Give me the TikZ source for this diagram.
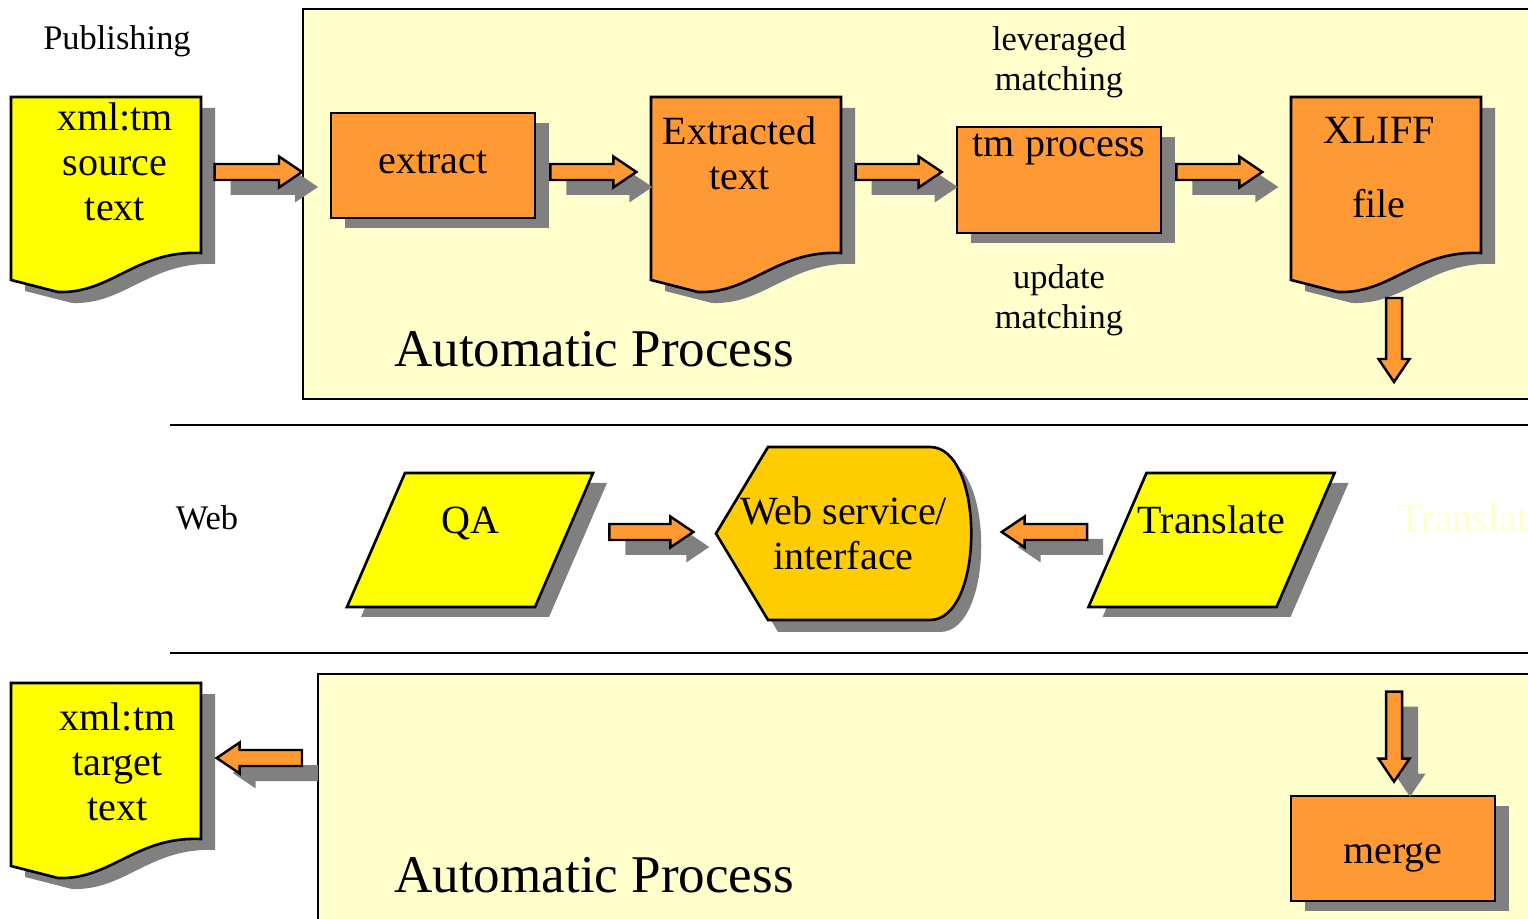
\documentclass[tikz,border=0pt]{standalone}
\usepackage{fontspec}
\setmainfont{Liberation Serif}
\usetikzlibrary{arrows.meta,positioning,calc,shadows,shapes.geometric}
\definecolor{PanelYellow}{RGB}{255,255,204}
\definecolor{DocYellow}{RGB}{255,255,0}
\definecolor{BoxOrange}{RGB}{255,153,51}
\definecolor{WebGold}{RGB}{255,204,0}
\definecolor{ShadowGray}{RGB}{128,128,128}
\newcommand{\boxfont}{\fontsize{11.4}{12.8}\selectfont}
\newcommand{\notefont}{\fontsize{9.8}{11.4}\selectfont}
\newcommand{\bigfont}{\fontsize{15.1}{17}\selectfont}
% fat outlined arrow from #2 to #3, with its shadow (#1)
\newcommand{\blockarrow}[3][fill=ShadowGray]{%
  \coordinate (ba-tail) at #2;
  \coordinate (ba-tip) at #3;
  \coordinate (ba-base) at ($(ba-tip)!2.3mm!(ba-tail)$);
  \path[#1,transform canvas={shift={(1.6mm,-1.5mm)}}]
    ($(ba-tail)!0.8mm!90:(ba-tip)$) -- ($(ba-base)!0.8mm!-90:(ba-tail)$)
    -- ($(ba-base)!1.55mm!-90:(ba-tail)$) -- (ba-tip)
    -- ($(ba-base)!1.55mm!90:(ba-tail)$) -- ($(ba-base)!0.8mm!90:(ba-tail)$)
    -- ($(ba-tail)!0.8mm!-90:(ba-tip)$) -- cycle;
  \filldraw[pipefill]
    ($(ba-tail)!0.8mm!90:(ba-tip)$) -- ($(ba-base)!0.8mm!-90:(ba-tail)$)
    -- ($(ba-base)!1.55mm!-90:(ba-tail)$) -- (ba-tip)
    -- ($(ba-base)!1.55mm!90:(ba-tail)$) -- ($(ba-base)!0.8mm!90:(ba-tail)$)
    -- ($(ba-tail)!0.8mm!-90:(ba-tip)$) -- cycle;
}
\tikzset{
  solidshadow/.style={drop shadow={shadow xshift=1.4mm,shadow yshift=-1.0mm,
    fill=ShadowGray,opacity=1}},
  panel/.style={draw=black,line width=0.7pt,fill=PanelYellow,
    anchor=north west,inner sep=0pt},
  rule/.style={draw=black,line width=0.7pt},
  pipefill/.style={draw=black,line width=0.7pt,fill=BoxOrange,line join=miter},
  procbox/.style={draw=black,line width=0.75pt,fill=BoxOrange,
    minimum width=2.04cm,minimum height=1.05cm,align=center,font=\boxfont,
    text height=0.7em,text depth=0.25em,solidshadow},
  inputbox/.style={trapezium,trapezium left angle=66.6,
    trapezium right angle=113.4,trapezium stretches body,
    draw=black,line width=0.75pt,fill=DocYellow,minimum width=2.46cm,
    minimum height=1.34cm,inner ysep=0pt,inner xsep=-0.09cm,
    text height=0.61cm,text depth=0.73cm,font=\boxfont,solidshadow},
  websvc/.style={minimum width=2.55cm,minimum height=1.73cm,inner sep=0pt,
    align=center,font=\boxfont},
  doctext/.style={font=\boxfont,align=center,inner sep=0pt,anchor=north,
    minimum width=1.9cm},
  notetext/.style={font=\notefont,align=center,inner sep=0pt},
  bigtext/.style={font=\bigfont,inner sep=0pt},
  pics/docsheet/.style={code={
    \fill[ShadowGray,shift={(0.14,-0.11)}] (0,0) -- (1.9,0) -- (1.9,-1.56)
      .. controls (1.25,-1.53) and (1.0,-1.97) .. (0.47,-1.95) -- (0,-1.83) -- cycle;
    \filldraw[draw=black,line width=0.75pt,fill=#1] (0,0) -- (1.9,0) -- (1.9,-1.56)
      .. controls (1.25,-1.53) and (1.0,-1.97) .. (0.47,-1.95) -- (0,-1.83) -- cycle;
  }},
  pics/webscreen/.style={code={
    \fill[ShadowGray,shift={(0.1,-0.12)}] (-1.275,0) -- (-0.755,0.865)
      -- (0.865,0.865) .. controls (1.415,0.865) and (1.415,-0.865) .. (0.865,-0.865)
      -- (-0.755,-0.865) -- cycle;
    \filldraw[draw=black,line width=0.75pt,fill=WebGold] (-1.275,0) -- (-0.755,0.865)
      -- (0.865,0.865) .. controls (1.415,0.865) and (1.415,-0.865) .. (0.865,-0.865)
      -- (-0.755,-0.865) -- cycle;
  }},
}

\begin{document}
\begin{tikzpicture}
\useasboundingbox (0,0) rectangle (15.28,-9.19);
\coordinate (toprow) at (0,-1.72);
\coordinate (webrow) at (0,-5.32);
\coordinate (botrow) at (0,-7.58);

% publishing band
\node[panel,minimum width=12.5cm,minimum height=3.9cm] (topPanel) at (3.02,-0.08) {};
\node[notetext] (publishing) at (1.17,-0.41) {Publishing};
\pic at (0.11,-0.97) {docsheet=DocYellow};
\node[doctext] (src) at (1.15,-1.02) {xml:tm\\source\\text};
\node[procbox] (extract) at (4.33,-1.655) {extract};
\pic at (6.51,-0.97) {docsheet=BoxOrange};
\node[doctext] (exttext) at (7.395,-1.16) {Extracted\\text};
\node[procbox,inner ysep=0pt,text height=0.30cm,text depth=0.76cm] (tm) at (10.59,-1.80) {tm process};
\node[notetext,above=0.27cm of tm] (leveraged) {leveraged\\matching};
\node[notetext,below=0.30cm of tm] (update) {update\\matching};
\pic at (12.91,-0.97) {docsheet=BoxOrange};
\node[doctext] (xliff) at (13.79,-1.17) {XLIFF\\[8pt]file};
\node[bigtext] (autoTop) at (5.94,-3.49) {Automatic Process};

\blockarrow{($(src.east |- toprow)+(0.04,0)$)}{(topPanel.west |- toprow)}
\blockarrow{($(extract.east |- toprow)+(0.14,0)$)}{($(exttext.west |- toprow)+(-0.075,0)$)}
\blockarrow{($(exttext.east |- toprow)+(0.205,0)$)}{($(tm.west |- toprow)+(-0.14,0)$)}
\blockarrow{($(tm.east |- toprow)+(0.14,0)$)}{($(xliff.west |- toprow)+(-0.21,0)$)}
\blockarrow[fill=none]{($(xliff.north)+(0.15,-1.81)$)}{($(xliff.north)+(0.15,-2.65)$)}

\draw[rule] (1.70,-4.25) -- (15.40,-4.25);

% web band
\node[notetext] (webLabel) at (2.07,-5.18) {Web};
\node[inputbox] (qa) at (4.70,-5.40) {QA};
\pic at (8.435,-5.335) {webscreen};
\node[websvc] (web) at (8.435,-5.335) {Web service/\\interface};
\node[inputbox] (trans) at (12.115,-5.40) {Translate};
\node[font=\boxfont,text=PanelYellow,inner sep=0pt,anchor=west] (translator) at (13.98,-5.18) {Translator};

\blockarrow{($(qa.east |- webrow)+(0.44,0)$)}{($(web.west |- webrow)+(-0.22,0)$)}
\blockarrow{($(trans.west |- webrow)+(-0.29,0)$)}{($(web.east |- webrow)+(0.30,0)$)}

\draw[rule] (1.70,-6.53) -- (15.40,-6.53);

% merge band
\node[panel,minimum width=12.4cm,minimum height=3.0cm] (botPanel) at (3.17,-6.73) {};
\pic at (0.11,-6.83) {docsheet=DocYellow};
\node[doctext] (tgt) at (1.175,-7.02) {xml:tm\\target\\text};
\node[procbox,text height=1.1em] (merge) at (13.93,-8.485) {merge};
\node[bigtext] (autoBot) at (5.94,-8.75) {Automatic Process};

\blockarrow{($(botPanel.west |- botrow)+(-0.15,0)$)}{($(tgt.east |- botrow)+(0.035,0)$)}
\blockarrow{($(merge.north)+(0.01,1.03)$)}{($(merge.north)+(0.01,0.13)$)}
\end{tikzpicture}
\end{document}
